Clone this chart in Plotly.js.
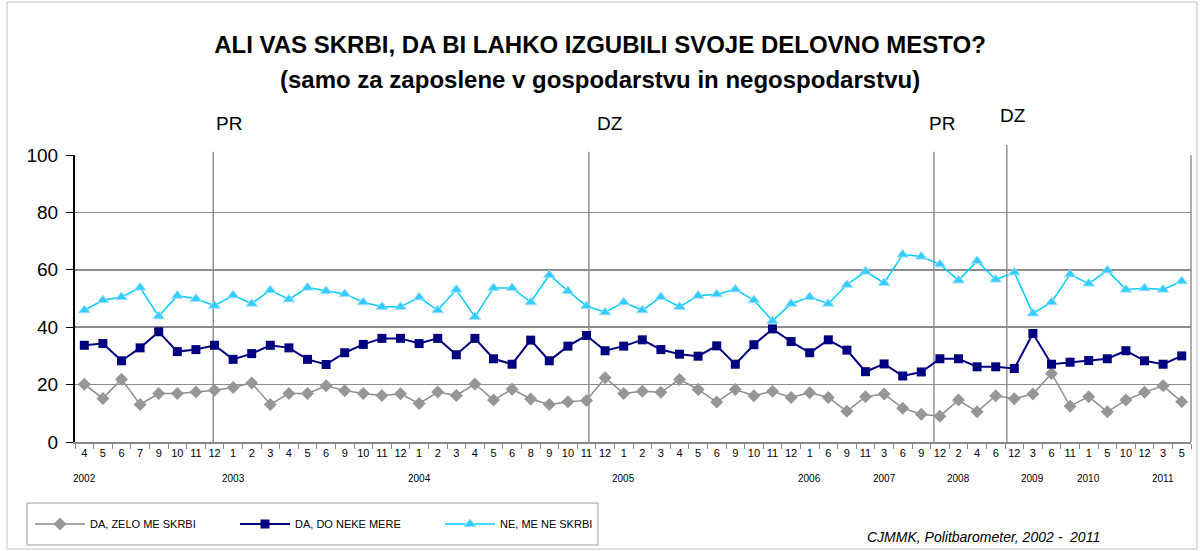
<!DOCTYPE html>
<html>
<head>
<meta charset="utf-8">
<script src="https://cdn.plot.ly/plotly-3.0.1.min.js"></script>
<style>html,body{margin:0;padding:0;background:#fff;}#chart{width:1200px;height:551px;}</style>
</head>
<body>
<div id="chart"></div>
<script>
// Survey waves (month labels) and year labels
const months = ["4","5","6","7","9","10","11","12",
  "1","2","3","4","5","6","9","10","11","12",
  "1","2","3","4","5","6","8","9","10","11","12",
  "1","2","3","4","5","6","9","10","11","12",
  "1","6","9","11",
  "3","6","9","12",
  "2","4","6","12",
  "3","6","11",
  "1","5","10","12",
  "3","5"];
const years = ["2002","2003","2004","2005","2006","2007","2008","2009","2010","2011"];
const yearAt = [0,8,18,29,39,43,47,51,54,58];

// Series (percent)
const daZelo = [20.1,15.2,21.9,13.1,16.9,16.9,17.4,18,19,20.6,13.1,16.9,16.9,19.6,17.9,16.9,16.2,16.8,13.4,17.4,16.2,20.2,14.6,18.4,15,13.1,14,14.5,22.4,16.9,17.7,17.3,21.8,18.3,13.9,18.3,16.1,17.7,15.5,17.2,15.5,10.7,15.8,16.7,11.8,9.7,9,14.6,10.5,16.1,15.1,16.7,23.9,12.5,15.8,10.5,14.6,17.3,19.6,14];
const daDoNeke = [33.7,34.3,28.3,32.8,38.4,31.5,32.2,33.7,28.8,30.8,33.7,32.8,28.8,27,31.1,34,36.1,36.1,34.3,36.1,30.4,36.1,29,27.1,35.5,28.3,33.4,37.1,31.8,33.4,35.6,32.2,30.6,29.9,33.5,27.1,33.9,39.4,35,31.1,35.6,32,24.5,27.2,23,24.4,29,29,26.2,26.2,25.6,37.8,27.1,27.8,28.4,29,31.8,28.3,27.1,30];
const neMeNe = [45.9,49.4,50.5,53.8,43.8,51,49.9,47.5,51.1,48.2,52.9,49.7,53.8,52.6,51.6,48.7,47.1,47.1,50.4,45.9,53.1,43.6,53.7,53.7,48.7,58.2,52.6,47.4,45.2,48.7,45.9,50.5,47.1,51,51.5,53.2,49.4,42.2,48.2,50.5,48.2,54.8,59.4,55.4,65.3,64.6,61.9,56.3,63.1,56.6,59.1,44.8,48.7,58.4,55.2,59.8,53.1,53.6,53.1,56];

// Election markers (PR = presidential, DZ = parliamentary)
const eventLabels = ["PR","DZ","PR","DZ"];
const eventAt = [6.93,27.13,45.68,49.6];

const idx = months.map((_, i) => i);
const sans = "Liberation Sans, Arial, sans-serif";

// pixel -> paper helpers (plot area: x 75..1191, y 155..442)
const px = p => (p - 75) / 1116;
const py = p => (442 - p) / 287;

const traces = [
  {x: idx, y: daZelo, name: "DA, ZELO ME SKRBI", type: "scatter", mode: "lines+markers",
   line: {color: "#8c8c8c", width: 1.5}, marker: {symbol: "diamond", size: 10, color: "#969696"}},
  {x: idx, y: daDoNeke, name: "DA, DO NEKE MERE", type: "scatter", mode: "lines+markers",
   line: {color: "#000080", width: 2}, marker: {symbol: "square", size: 9, color: "#000080"}},
  {x: idx, y: neMeNe, name: "NE, ME NE SKRBI", type: "scatter", mode: "lines+markers",
   line: {color: "#00ccff", width: 1.5}, marker: {symbol: "triangle-up", size: 10, color: "#33ccff", line: {color: "#99ddff", width: 1}}}
];

const shapes = [];
eventAt.forEach(v => {
  shapes.push({type: "line", xref: "x", yref: "paper", x0: v, x1: v, y0: 0, y1: (v > 49 ? 1.035 : 1.011),
    line: {color: "#808080", width: 1.3}, layer: "below"});
});
// right plot border
shapes.push({type: "line", xref: "paper", yref: "paper", x0: 1, x1: 1, y0: 0, y1: 1, line: {color: "#909090", width: 1.5}});
// outer chart frame
shapes.push({type: "rect", xref: "paper", yref: "paper", x0: px(7), x1: px(1197), y0: py(549), y1: py(2),
  line: {color: "#c0c0c0", width: 1}, layer: "below"});
// legend frame
shapes.push({type: "rect", xref: "paper", yref: "paper", x0: px(27), x1: px(598), y0: py(545), y1: py(503),
  line: {color: "#999", width: 1}, fillcolor: "rgba(0,0,0,0)", layer: "below"});

const annotations = [];
years.forEach((yr, i) => {
  annotations.push({text: yr, xref: "x", yref: "paper", x: yearAt[i], y: py(478), showarrow: false,
    xanchor: "center", yanchor: "middle", font: {family: sans, size: 10, color: "#000"}});
});
const eventLabelX = [7.78, 28.25, 46.1, 49.93];
eventLabels.forEach((t, i) => {
  annotations.push({text: t, xref: "x", yref: "paper", x: eventLabelX[i], y: (i === 3 ? py(115) : py(123)),
    showarrow: false, xanchor: "center", yanchor: "middle", font: {family: sans, size: 19, color: "#000"}});
});
annotations.push({text: "<b>(samo za zaposlene v gospodarstvu in negospodarstvu)</b>", xref: "paper", yref: "paper",
  x: px(600), y: py(80), showarrow: false, xanchor: "center", yanchor: "middle",
  font: {family: sans, size: 24, color: "#000"}});
annotations.push({text: "<i>CJMMK, Politbarometer, 2002 -  2011</i>", xref: "paper", yref: "paper",
  x: px(983), y: py(537), showarrow: false, xanchor: "center", yanchor: "middle",
  font: {family: sans, size: 14, color: "#000"}});

const layout = {
  width: 1200, height: 551,
  margin: {l: 75, r: 9, t: 155, b: 109},
  paper_bgcolor: "#fff", plot_bgcolor: "#fff",
  title: {text: "<b>ALI VAS SKRBI, DA BI LAHKO IZGUBILI SVOJE DELOVNO MESTO?</b>",
    x: 0.5, xref: "container", xanchor: "center", y: 1 - 45 / 551, yref: "container", yanchor: "middle",
    font: {family: sans, size: 24, color: "#000"}},
  xaxis: {range: [-0.5, 59.5], tickmode: "array", tickvals: idx, ticktext: months,
    tickfont: {family: sans, size: 11, color: "#000"}, ticks: "", showgrid: false, zeroline: false,
    showline: true, linecolor: "#888", linewidth: 2,
    minor: {tickmode: "linear", tick0: -0.5, dtick: 1, ticks: "outside", ticklen: 5, tickcolor: "#888", tickwidth: 1, showgrid: false},
    fixedrange: true},
  yaxis: {range: [0, 100], tickmode: "linear", tick0: 0, dtick: 20, ticks: "outside", ticklen: 7, tickcolor: "#000", tickwidth: 1,
    tickfont: {family: sans, size: 19, color: "#000"}, showgrid: true, gridcolor: "#8c8c8c", gridwidth: 1.5,
    ticklabelstandoff: 4,
    zeroline: false, showline: true, linecolor: "#000", linewidth: 2, fixedrange: true},
  showlegend: true,
  legend: {orientation: "h", x: px(30), y: py(524), xanchor: "left", yanchor: "middle",
    borderwidth: 0, bgcolor: "rgba(0,0,0,0)", font: {family: sans, size: 11, color: "#000"},
    itemwidth: 50, entrywidth: 140, entrywidthmode: "pixels"},
  shapes: shapes,
  annotations: annotations
};

Plotly.newPlot("chart", traces, layout, {displayModeBar: false, staticPlot: true});
</script>
</body>
</html>
